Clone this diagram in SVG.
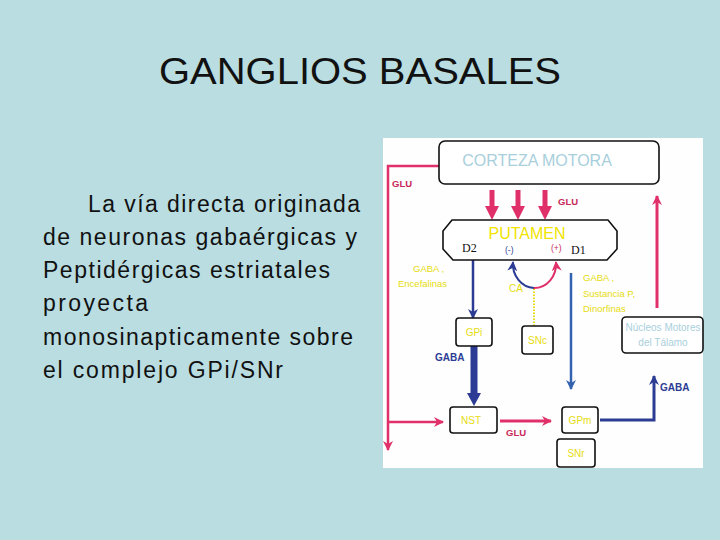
<svg xmlns="http://www.w3.org/2000/svg" width="720" height="540" viewBox="0 0 720 540">
<defs>
<style>
.body{font-family:"Liberation Sans","DejaVu Sans",sans-serif;font-size:23px;fill:#111}
.box{fill:#fff;stroke:#111;stroke-width:1.6}
.yl{font-family:"Liberation Sans",Arial,sans-serif;font-size:10px;fill:#e6dc10;text-anchor:middle}
.ylab{font-family:"Liberation Sans",Arial,sans-serif;font-size:9.5px;fill:#e6dc10}
.lb{font-family:"Liberation Sans",Arial,sans-serif;fill:#a8cfdc;text-anchor:middle}
.rlab{font-family:"Liberation Sans",Arial,sans-serif;font-size:9.5px;font-weight:bold;fill:#c8285a}
.blab{font-family:"Liberation Sans",Arial,sans-serif;font-size:10px;font-weight:bold;fill:#2c3c94}
.red{stroke:#e0306a;fill:none}
.dblue{stroke:#2c3c94;fill:none}
.mblue{stroke:#3262b0;fill:none}
.ser{font-family:"Liberation Serif","Times New Roman",serif;font-size:12px;fill:#111}
</style>
<marker id="rh" markerWidth="10" markerHeight="10" refX="9" refY="5" orient="auto" markerUnits="userSpaceOnUse">
<path d="M0,0 L10,5 L0,10 L3,5 Z" fill="#e0306a"/>
</marker>
<marker id="bh" markerWidth="10" markerHeight="10" refX="9" refY="5" orient="auto" markerUnits="userSpaceOnUse">
<path d="M0,0 L10,5 L0,10 L3,5 Z" fill="#2c3c94"/>
</marker>
<marker id="mbh" markerWidth="10" markerHeight="10" refX="9" refY="5" orient="auto" markerUnits="userSpaceOnUse">
<path d="M0,0 L10,5 L0,10 L3,5 Z" fill="#3262b0"/>
</marker>
</defs>
<rect width="720" height="540" fill="#b9dde1"/>
<text x="360" y="84" text-anchor="middle" font-family="Liberation Sans, Arial, sans-serif" font-size="37" fill="#111" textLength="402" lengthAdjust="spacingAndGlyphs">GANGLIOS BASALES</text>
<g id="texto">
<text class="body" x="88" y="212" textLength="272">La vía directa originada</text>
<text class="body" x="43" y="245" textLength="314">de neuronas gabaérgicas y</text>
<text class="body" x="43" y="278" textLength="287">Peptidérgicas estriatales</text>
<text class="body" x="43" y="311" textLength="105">proyecta</text>
<text class="body" x="43" y="345" textLength="310">monosinapticamente sobre</text>
<text class="body" x="43" y="378" textLength="240">el complejo GPi/SNr</text>
</g>
<rect x="383" y="138" width="320" height="330" fill="#fefefe"/>
<g id="connectors">
<polyline class="red" stroke-width="2.5" points="439,166 388,166 388,450" marker-end="url(#rh)"/>
<line class="red" stroke-width="2.5" x1="388" y1="422" x2="443" y2="422" marker-end="url(#rh)"/>
<g fill="#e0306a">
<rect x="489.5" y="190" width="5" height="18"/><polygon points="485,206 499,206 492,220"/>
<rect x="515.5" y="190" width="5" height="18"/><polygon points="511,206 525,206 518,220"/>
<rect x="542.5" y="190" width="5" height="18"/><polygon points="538,206 552,206 545,220"/>
</g>
<line class="red" stroke-width="3" x1="657" y1="308" x2="657" y2="196" marker-end="url(#rh)"/>
<line class="dblue" stroke-width="2.5" x1="473" y1="260" x2="473" y2="318" marker-end="url(#bh)"/>
<line class="dblue" stroke-width="7" x1="474" y1="346" x2="474" y2="396"/>
<polygon points="467,393 481,393 474,406" fill="#2c3c94"/>
<line stroke="#e6dc10" stroke-width="2" stroke-dasharray="1.5,1.5" x1="534" y1="326" x2="534" y2="288"/>
<path class="dblue" stroke-width="2" d="M534,288 A22,24 0 0 1 513,262" marker-end="url(#bh)"/>
<path stroke="#e0306a" fill="none" stroke-width="2" d="M534,288 A22,24 0 0 0 556,262" marker-end="url(#rh)"/>
<line class="mblue" stroke-width="2.5" x1="571" y1="273" x2="571" y2="389" marker-end="url(#mbh)"/>
<line class="red" stroke-width="3" x1="500" y1="421" x2="551" y2="421" marker-end="url(#rh)"/>
<polyline class="dblue" stroke-width="3" points="600,420 654,420 654,376" marker-end="url(#bh)"/>
</g>
<g id="labels">
<text class="rlab" x="392" y="187">GLU</text>
<text class="rlab" x="558" y="205">GLU</text>
<text class="ylab" x="413" y="272">GABA ,</text>
<text class="ylab" x="398" y="287">Encefalinas</text>
<text class="yl" x="516" y="292" text-anchor="start">CA</text>
<text class="ylab" x="583" y="281">GABA ,</text>
<text class="ylab" x="583" y="297">Sustancia P,</text>
<text class="ylab" x="583" y="312">Dinorfinas</text>
<text class="blab" x="435" y="361">GABA</text>
<text class="rlab" x="506" y="436">GLU</text>
<text class="blab" x="660" y="391">GABA</text>
</g>
<g id="corteza">
<rect class="box" x="439" y="141" width="220" height="43" rx="6"/>
<text class="lb" x="537" y="166" font-size="16">CORTEZA MOTORA</text>
</g>
<g id="putamen">
<polygon class="box" points="452,220 608,220 617,231 617,249 607,260 453,260 443,249 443,231"/>
<text x="527" y="239" text-anchor="middle" font-family="Liberation Sans, Arial, sans-serif" font-size="16" fill="#f0e400">PUTAMEN</text>
<text class="ser" x="462" y="252">D2</text>
<text x="505" y="253" font-family="Liberation Sans, Arial, sans-serif" font-size="8.5" fill="#2c3c94">(-)</text>
<text x="551" y="251" font-family="Liberation Sans, Arial, sans-serif" font-size="8.5" fill="#c8285a">(+)</text>
<text class="ser" x="571" y="254">D1</text>
</g>
<g id="gpi">
<rect class="box" x="456" y="318" width="36" height="28" rx="3"/>
<text class="yl" x="474" y="336">GPi</text>
</g>
<g id="snc">
<rect class="box" x="522" y="326" width="31" height="28" rx="3"/>
<text class="yl" x="537.5" y="344">SNc</text>
</g>
<g id="talamo">
<rect class="box" x="622" y="317" width="81" height="36" rx="4"/>
<text class="lb" x="663" y="331" font-size="10">Núcleos Motores</text>
<text class="lb" x="663" y="346" font-size="10">del Tálamo</text>
</g>
<g id="nst">
<rect class="box" x="450" y="407" width="47" height="26" rx="3"/>
<text class="yl" x="471" y="424">NST</text>
</g>
<g id="gpm">
<rect class="box" x="562" y="407" width="36" height="26" rx="3"/>
<text class="yl" x="580" y="424">GPm</text>
</g>
<g id="snr">
<rect class="box" x="557" y="439" width="38" height="28" rx="3"/>
<text class="yl" x="576" y="457">SNr</text>
</g>
</svg>
